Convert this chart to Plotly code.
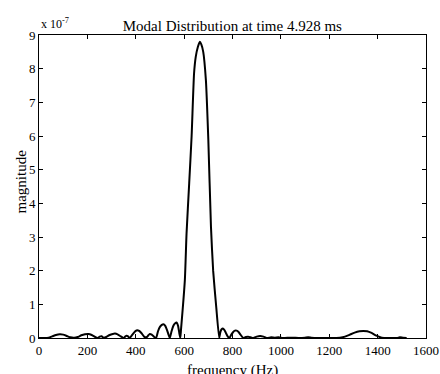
import plotly.graph_objects as go

# frequency (Hz)
freq = [0, 20, 40, 55, 70, 86, 100, 115, 130, 145, 160, 175, 190, 204, 218, 232,
        242, 251, 259, 267, 278, 292, 305, 314, 325, 338, 350, 356, 362, 368, 374,
        382, 392, 400, 406, 414, 424, 436, 446, 452, 458, 466, 475, 484, 492, 500,
        508, 514, 522, 530, 536, 541, 548, 556, 563, 569, 575, 580, 584, 587, 603,
        610, 621, 631, 641, 648, 657, 665, 671, 679, 690, 700, 711, 720, 733, 745,
        750, 755, 760, 766, 772, 780, 787, 795, 803, 810, 817, 825, 833, 845, 855,
        865, 875, 886, 900, 914, 928, 941, 960, 975, 990, 1010, 1040, 1080, 1100,
        1113, 1126, 1150, 1200, 1244, 1265, 1285, 1305, 1325, 1341, 1357, 1375,
        1395, 1417, 1450, 1480, 1492, 1504, 1520]

# magnitude, in units of 1e-7
magnitude_e7 = [0.0, 0.0, 0.01, 0.05, 0.09, 0.11, 0.10, 0.06, 0.02, 0.01, 0.03,
                0.08, 0.11, 0.12, 0.09, 0.03, 0.0, 0.04, 0.05, 0.01, 0.03, 0.09,
                0.12, 0.13, 0.11, 0.05, 0.0, 0.04, 0.07, 0.05, 0.0, 0.06, 0.15,
                0.21, 0.23, 0.21, 0.14, 0.03, 0.03, 0.08, 0.12, 0.10, 0.04, 0.0,
                0.20, 0.33, 0.39, 0.41, 0.36, 0.22, 0.09, 0.0, 0.20, 0.37, 0.44,
                0.46, 0.36, 0.15, 0.0, 0.24, 1.72, 3.1, 4.6, 6.0, 7.85, 8.35, 8.65,
                8.8, 8.72, 8.5, 7.66, 5.9, 3.3, 2.0, 0.9, 0.0, 0.18, 0.26, 0.28,
                0.24, 0.16, 0.05, 0.0, 0.10, 0.18, 0.22, 0.22, 0.18, 0.10, 0.0,
                0.03, 0.04, 0.02, 0.0, 0.04, 0.06, 0.04, 0.0, 0.02, 0.01, 0.02,
                0.0, 0.01, 0.0, 0.01, 0.02, 0.01, 0.0, 0.0, 0.01, 0.04, 0.10, 0.16,
                0.20, 0.21, 0.20, 0.15, 0.07, 0.01, 0.0, 0.0, 0.02, 0.01, 0.0]

title_text = "Modal Distribution at time 4.928 ms"
x_label = "frequency (Hz)"
y_label = "magnitude"
exponent_label = "x 10<sup>-7</sup>"

FONT = "Liberation Serif, Times New Roman, serif"

fig = go.Figure()
fig.add_trace(go.Scatter(
    x=freq, y=magnitude_e7, mode="lines",
    line=dict(color="black", width=2, shape="spline", smoothing=0.5),
    showlegend=False, hoverinfo="skip"))

axis_common = dict(
    showline=True, linecolor="black", linewidth=1, mirror="ticks",
    ticks="inside", ticklen=4, tickcolor="black", tickwidth=1,
    showgrid=False, zeroline=False, automargin=False,
    tickfont=dict(family=FONT, size=13, color="black"),
)

fig.update_layout(
    width=440, height=374,
    margin=dict(l=39, r=14, t=35, b=36),
    paper_bgcolor="white", plot_bgcolor="white",
    font=dict(family=FONT, color="black"),
    title=dict(text=title_text, x=0.528, xanchor="center",
               y=1 - 26 / 374, yanchor="middle", yref="container",
               font=dict(family=FONT, size=15, color="black")),
    xaxis=dict(range=[0, 1600], dtick=200, tick0=0, **axis_common),
    yaxis=dict(range=[0, 9], dtick=1, tick0=0, **axis_common),
    annotations=[
        dict(text=exponent_label, xref="paper", yref="paper",
             x=0, y=1, xanchor="left", yanchor="bottom", yshift=2,
             showarrow=False, font=dict(family=FONT, size=12, color="black")),
        dict(text=x_label, xref="paper", yref="paper",
             x=0.5, y=0, xanchor="center", yanchor="middle", yshift=-32,
             showarrow=False, font=dict(family=FONT, size=15, color="black")),
        dict(text=y_label, xref="paper", yref="paper", textangle=-90,
             x=0, y=0.5, xanchor="center", yanchor="middle", xshift=-19,
             yshift=5,
             showarrow=False, font=dict(family=FONT, size=15, color="black")),
    ],
)

fig.write_html(
    "out.html",
    config={"displayModeBar": False},
    post_script="document.body.style.margin='0';document.body.style.padding='0';"
                "document.body.style.overflow='hidden';",
)
